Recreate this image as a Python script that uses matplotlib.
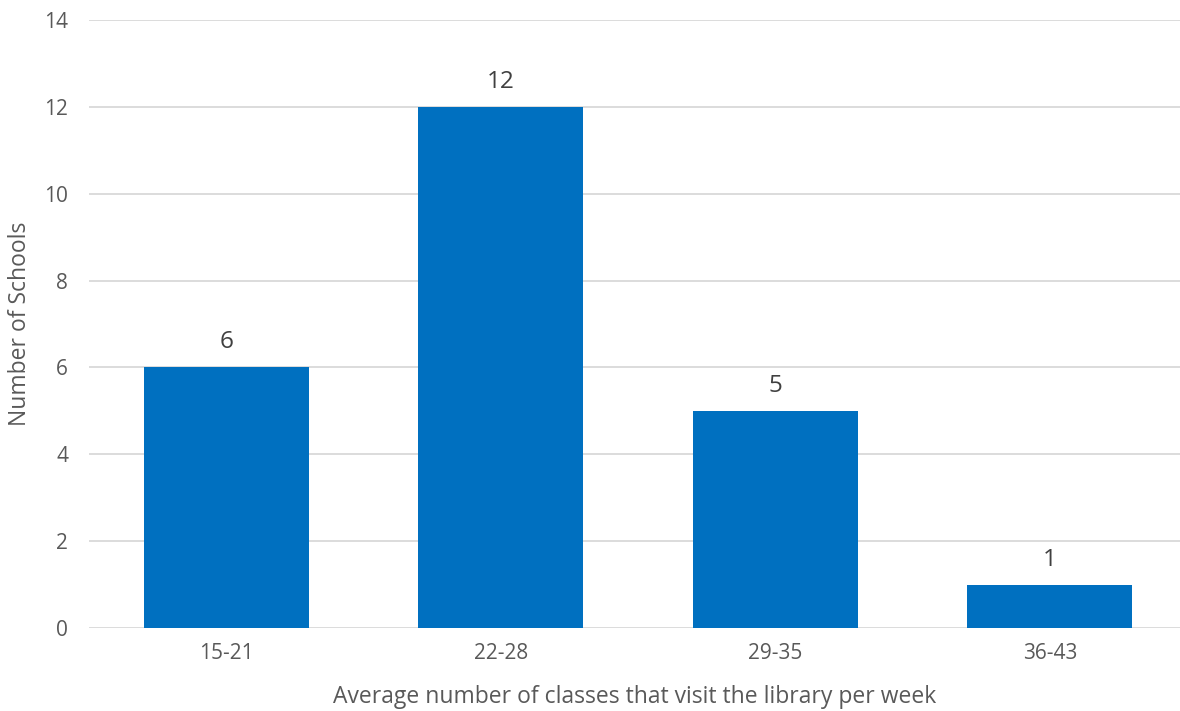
import matplotlib
matplotlib.use('Agg')
import matplotlib.pyplot as plt

categories = ['15-21', '22-28', '29-35', '36-43']
schools = [6, 12, 5, 1]
yticks = [0, 2, 4, 6, 8, 10, 12, 14]

plt.rcParams['font.family'] = ['Open Sans', 'DejaVu Sans']

W, H = 1180, 711
fig = plt.figure(figsize=(W/100, H/100), dpi=100)
left, right = 89, 1180
bottom, top = 628, 20
ax = fig.add_axes([left/W, (H-bottom)/H, (right-left)/W, (bottom-top)/H])

x = range(len(categories))
bars = ax.bar(x, schools, width=0.6, color='#0070C0', zorder=3)
for xi, v in zip(x, schools):
    ax.text(xi, v + 0.3, str(v), ha='center', va='bottom', fontsize=17.5, color='#404040')

ax.set_xlim(-0.5, -0.5 + (right-left)/274.5)
ax.set_ylim(0, 14)
ax.set_yticks(yticks)
ax.set_xticks(list(x))
ax.set_xticklabels(categories)
ax.tick_params(axis='both', length=0, labelsize=15, labelcolor='#595959')
ax.tick_params(axis='y', pad=15)
ax.tick_params(axis='x', pad=11)
ax.grid(axis='y', color='#D9D9D9', linewidth=1.3, zorder=0)
for s in ax.spines.values():
    s.set_visible(False)

ax.set_xlabel('Average number of classes that visit the library per week', fontsize=16.5, color='#595959', labelpad=15)
ax.set_ylabel('Number of Schools', fontsize=16.5, color='#595959')
ax.yaxis.set_label_coords((32 - left)/(right - left), 0.5)

fig.savefig('out.png', dpi=100)
